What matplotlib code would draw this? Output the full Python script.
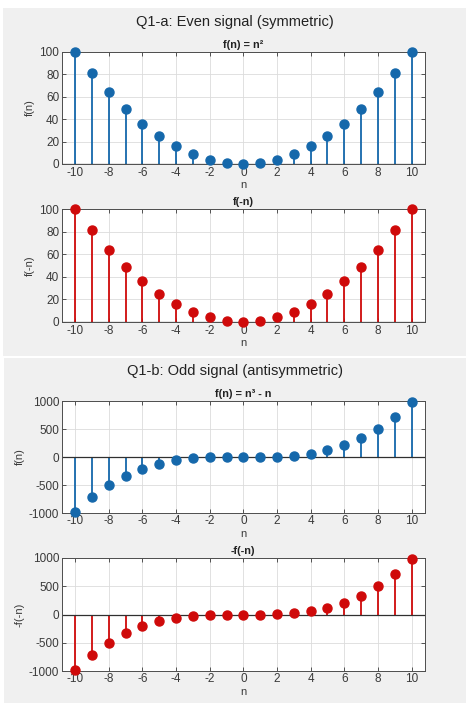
import matplotlib
matplotlib.use('Agg')
import matplotlib.pyplot as plt
from matplotlib.patches import Rectangle

plt.rcParams['font.family'] = ['Liberation Sans', 'DejaVu Sans']
plt.rcParams['axes.unicode_minus'] = False

# data
n = [-10, -9, -8, -7, -6, -5, -4, -3, -2, -1, 0, 1, 2, 3, 4, 5, 6, 7, 8, 9, 10]
even_f = [100, 81, 64, 49, 36, 25, 16, 9, 4, 1, 0, 1, 4, 9, 16, 25, 36, 49, 64, 81, 100]
even_f_rev = [100, 81, 64, 49, 36, 25, 16, 9, 4, 1, 0, 1, 4, 9, 16, 25, 36, 49, 64, 81, 100]
odd_f = [-990, -720, -504, -336, -210, -120, -60, -24, -6, 0, 0, 0, 6, 24, 60, 120, 210, 336, 504, 720, 990]
odd_neg_f_rev = [-990, -720, -504, -336, -210, -120, -60, -24, -6, 0, 0, 0, 6, 24, 60, 120, 210, 336, 504, 720, 990]
xticks = [-10, -8, -6, -4, -2, 0, 2, 4, 6, 8, 10]
even_yticks = [0, 20, 40, 60, 80, 100]
odd_yticks = [-1000, -500, 0, 500, 1000]

W, H = 469, 718
blue = '#1568ab'
red = '#cf0a0a'

fig = plt.figure(figsize=(W / 100, H / 100), dpi=100, facecolor='white')

# gray figure panels
fig.patches.append(Rectangle((3 / W, 1 - 356 / H), 463 / W, 348 / H, transform=fig.transFigure,
                             facecolor='#f0f0f0', edgecolor='none', zorder=-5))
fig.patches.append(Rectangle((4 / W, 1 - 703 / H), 462 / W, 345 / H, transform=fig.transFigure,
                             facecolor='#f0f0f0', edgecolor='none', zorder=-5))


def make_axes(top, bottom):
    left, right = 61.7, 425
    ax = fig.add_axes([left / W, 1 - bottom / H, (right - left) / W, (bottom - top) / H])
    ax.set_zorder(1)
    return ax


def stem_plot(ax, y, color, title, ylabel, ylim, yticks):
    markers, stems, base = ax.stem(n, y, linefmt='-', markerfmt='o', basefmt=' ')
    plt.setp(stems, color=color, linewidth=1.3)
    plt.setp(markers, color=color, markersize=6.5, zorder=4, clip_on=False)
    base.set_visible(False)
    ax.axhline(0, color='#303030', linewidth=0.9, zorder=2)
    ax.set_xlim(-10.8, 10.8)
    ax.set_ylim(ylim)
    ax.set_xticks(xticks)
    ax.set_yticks(yticks)
    ax.grid(True, color='#dcdcdc', linewidth=0.6)
    ax.set_axisbelow(True)
    ax.tick_params(direction='in', top=True, right=True, length=3, width=0.6,
                   labelsize=8.5, colors='#3a3a3a', pad=1.8)
    for s in ax.spines.values():
        s.set_color('#4d4d4d')
        s.set_linewidth(0.7)
    ax.set_title(title, fontsize=7.8, fontweight='bold', color='#222222', pad=3)
    ax.set_xlabel('n', fontsize=8, color='#3a3a3a', labelpad=1)
    ax.set_ylabel(ylabel, fontsize=8, color='#3a3a3a', labelpad=3)


ax1 = make_axes(51.7, 164)
stem_plot(ax1, even_f, blue, 'f(n) = n\u00b2', 'f(n)', (0, 100), even_yticks)
ax2 = make_axes(209, 322)
stem_plot(ax2, even_f_rev, red, 'f(-n)', 'f(-n)', (0, 100), even_yticks)
ax3 = make_axes(401, 513)
stem_plot(ax3, odd_f, blue, 'f(n) = n\u00b3 - n', 'f(n)', (-1000, 1000), odd_yticks)
ax4 = make_axes(558, 671)
stem_plot(ax4, odd_neg_f_rev, red, '-f(-n)', '-f(-n)', (-1000, 1000), odd_yticks)

fig.text(0.5, 1 - 22 / H, 'Q1-a: Even signal (symmetric)', ha='center', va='center',
         fontsize=10.5, color='#222222')
fig.text(0.5, 1 - 371 / H, 'Q1-b: Odd signal (antisymmetric)', ha='center', va='center',
         fontsize=10.5, color='#222222')

fig.savefig('out.png', dpi=100, facecolor='white')
